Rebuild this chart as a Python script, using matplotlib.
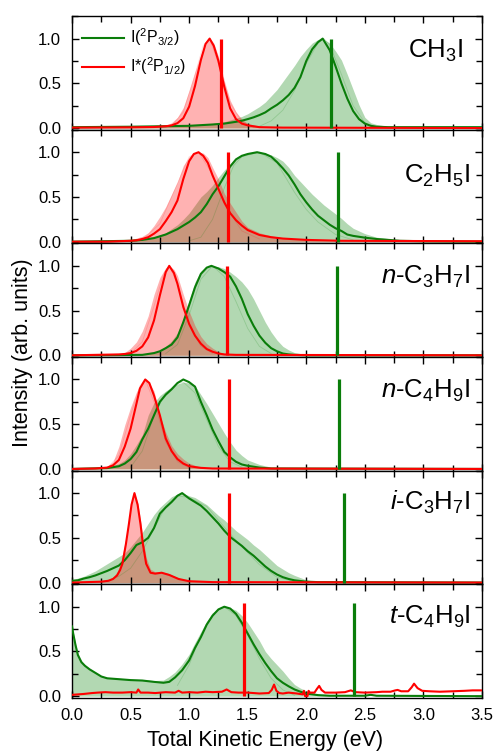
import matplotlib.pyplot as plt
from matplotlib.ticker import MultipleLocator

plt.rcParams['font.family'] = ['Liberation Sans', 'DejaVu Sans']
plt.rcParams['mathtext.fontset'] = 'custom'
plt.rcParams['mathtext.rm'] = 'Liberation Sans'
plt.rcParams['mathtext.it'] = 'Liberation Sans:italic'
plt.rcParams['mathtext.bf'] = 'Liberation Sans:bold'

# ---- CH3I ----
ch3i_g_e = [0.0, 0.5, 1.0, 1.2, 1.3, 1.4, 1.45, 1.5, 1.55, 1.6, 1.65, 1.7, 1.75, 1.8, 1.85, 1.9, 1.95, 2.0, 2.05,
            2.1, 2.14, 2.2, 2.25, 2.3, 2.35, 2.4, 2.45, 2.5, 2.55, 2.6, 2.7, 3.0, 3.5]
ch3i_g_line = [0.01, 0.015, 0.025, 0.04, 0.05, 0.07, 0.082, 0.1, 0.12, 0.145, 0.175, 0.22, 0.26, 0.31, 0.37, 0.45,
               0.57, 0.75, 0.88, 0.96, 1.0, 0.87, 0.69, 0.5, 0.33, 0.19, 0.1, 0.05, 0.025, 0.015, 0.01, 0.01, 0.01]
ch3i_g_fill = [0.01, 0.015, 0.03, 0.05, 0.07, 0.11, 0.13, 0.16, 0.2, 0.24, 0.29, 0.36, 0.43, 0.52, 0.61, 0.7,
               0.8, 0.88, 0.95, 0.99, 1.0, 0.95, 0.86, 0.76, 0.6, 0.43, 0.26, 0.12, 0.06, 0.04, 0.02, 0.01, 0.01]
ch3i_r_e = [0.0, 0.5, 0.7, 0.8, 0.85, 0.9, 0.95, 1.0, 1.05, 1.1, 1.14, 1.175, 1.21, 1.25, 1.3, 1.35, 1.4, 1.45,
            1.5, 1.6, 1.8, 3.5]
ch3i_r_line = [0.005, 0.008, 0.012, 0.02, 0.03, 0.055, 0.11, 0.24, 0.47, 0.76, 0.94, 1.0, 0.92, 0.75, 0.46, 0.22,
               0.1, 0.05, 0.03, 0.01, 0.005, 0.0]
ch3i_r_fill = [0.005, 0.01, 0.015, 0.03, 0.06, 0.12, 0.23, 0.42, 0.63, 0.82, 0.95, 1.0, 0.95, 0.8, 0.53, 0.31,
               0.18, 0.1, 0.05, 0.02, 0.005, 0.0]
ch3i_g_faint_e = [1.6, 1.7, 1.8, 1.9, 2.0, 2.1, 2.15, 2.2, 2.3, 2.4, 2.5, 2.6]
ch3i_g_faint = [0.02, 0.08, 0.2, 0.42, 0.72, 0.95, 1.0, 0.93, 0.6, 0.25, 0.06, 0.01]
ch3i_r_faint_e = [0.85, 0.95, 1.05, 1.12, 1.175, 1.25, 1.35, 1.45, 1.55]
ch3i_r_faint = [0.02, 0.18, 0.6, 0.92, 1.0, 0.72, 0.28, 0.07, 0.01]

# ---- C2H5I ----
c2h5i_g_e = [0.0, 0.5, 0.6, 0.7, 0.8, 0.9, 0.95, 1.0, 1.05, 1.1, 1.15, 1.2, 1.25, 1.3, 1.35, 1.4, 1.45, 1.5, 1.58,
             1.65, 1.7, 1.75, 1.8, 1.85, 1.9, 1.95, 2.0, 2.05, 2.1, 2.15, 2.2, 2.25, 2.3, 2.35, 2.4, 2.5, 2.6, 2.8,
             3.0, 3.5]
c2h5i_g_line = [0.0, 0.01, 0.02, 0.04, 0.08, 0.14, 0.18, 0.22, 0.27, 0.33, 0.42, 0.53, 0.62, 0.73, 0.84, 0.92,
                0.96, 0.98, 1.0, 0.98, 0.95, 0.89, 0.82, 0.74, 0.64, 0.53, 0.44, 0.36, 0.29, 0.24, 0.19, 0.15,
                0.12, 0.08, 0.065, 0.045, 0.03, 0.01, 0.005, 0.0]
c2h5i_g_fill = [0.0, 0.01, 0.025, 0.05, 0.1, 0.19, 0.25, 0.32, 0.41, 0.5, 0.56, 0.63, 0.72, 0.8, 0.87, 0.94,
                0.97, 0.99, 1.0, 0.99, 0.97, 0.94, 0.9, 0.83, 0.74, 0.67, 0.6, 0.53, 0.47, 0.41, 0.36, 0.31,
                0.26, 0.2, 0.15, 0.09, 0.05, 0.02, 0.005, 0.0]
c2h5i_r_e = [0.0, 0.3, 0.4, 0.5, 0.55, 0.6, 0.65, 0.7, 0.75, 0.8, 0.85, 0.9, 0.95, 1.0, 1.04, 1.08, 1.12, 1.16,
             1.2, 1.25, 1.3, 1.35, 1.4, 1.45, 1.5, 1.6, 1.7, 1.8, 2.0, 2.3, 3.5]
c2h5i_r_line = [0.0, 0.0, 0.005, 0.01, 0.015, 0.03, 0.05, 0.09, 0.14, 0.23, 0.33, 0.46, 0.7, 0.9, 0.98, 1.0,
                0.96, 0.88, 0.74, 0.59, 0.44, 0.32, 0.24, 0.18, 0.13, 0.075, 0.05, 0.035, 0.02, 0.01, 0.005]
c2h5i_r_fill = [0.0, 0.005, 0.01, 0.02, 0.04, 0.06, 0.1, 0.18, 0.28, 0.39, 0.53, 0.67, 0.85, 0.95, 0.99, 1.0,
                0.99, 0.94, 0.83, 0.7, 0.54, 0.43, 0.33, 0.23, 0.16, 0.1, 0.065, 0.045, 0.015, 0.005, 0.0]
c2h5i_g_faint_e = [1.0, 1.1, 1.2, 1.3, 1.38, 1.45, 1.6, 1.75, 1.9, 2.0, 2.1, 2.25, 2.4]
c2h5i_g_faint = [0.01, 0.05, 0.25, 0.6, 0.85, 0.95, 1.0, 0.88, 0.55, 0.36, 0.22, 0.08, 0.02]
c2h5i_r_faint_e = [0.6, 0.75, 0.9, 1.0, 1.08, 1.2, 1.3, 1.45, 1.6]
c2h5i_r_faint = [0.02, 0.2, 0.65, 0.95, 1.0, 0.75, 0.42, 0.12, 0.03]

# ---- n-C3H7I ----
nc3h7i_g_e = [0.0, 0.6, 0.7, 0.75, 0.8, 0.85, 0.9, 0.95, 1.0, 1.05, 1.1, 1.15, 1.19, 1.25, 1.3, 1.35, 1.4, 1.45,
              1.5, 1.55, 1.6, 1.65, 1.7, 1.75, 1.8, 1.85, 1.9, 2.0, 3.5]
nc3h7i_g_line = [0.0, 0.005, 0.025, 0.045, 0.08, 0.12, 0.2, 0.37, 0.56, 0.76, 0.91, 0.98, 1.0, 0.97, 0.93, 0.88,
                 0.77, 0.63, 0.46, 0.33, 0.22, 0.14, 0.08, 0.045, 0.02, 0.01, 0.005, 0.0, 0.0]
nc3h7i_g_fill = [0.0, 0.005, 0.03, 0.05, 0.1, 0.16, 0.25, 0.4, 0.62, 0.82, 0.94, 0.99, 1.0, 0.99, 0.97, 0.93,
                 0.88, 0.82, 0.74, 0.63, 0.5, 0.37, 0.26, 0.17, 0.1, 0.06, 0.03, 0.01, 0.0]
nc3h7i_r_e = [0.0, 0.4, 0.45, 0.5, 0.55, 0.6, 0.65, 0.7, 0.75, 0.8, 0.83, 0.87, 0.9, 0.95, 1.0, 1.05, 1.1, 1.15,
              1.2, 1.25, 1.3, 1.4, 3.5]
nc3h7i_r_line = [0.0, 0.01, 0.015, 0.025, 0.05, 0.1, 0.2, 0.39, 0.67, 0.93, 1.0, 0.92, 0.8, 0.54, 0.35, 0.22,
                 0.13, 0.07, 0.04, 0.02, 0.01, 0.005, 0.0]
nc3h7i_r_fill = [0.0, 0.015, 0.03, 0.08, 0.15, 0.27, 0.44, 0.68, 0.87, 0.98, 1.0, 0.96, 0.89, 0.68, 0.49, 0.33,
                 0.21, 0.13, 0.08, 0.04, 0.02, 0.005, 0.0]
nc3h7i_g_faint_e = [0.8, 0.9, 1.0, 1.1, 1.2, 1.3, 1.4, 1.5, 1.6, 1.7]
nc3h7i_g_faint = [0.02, 0.12, 0.45, 0.85, 1.0, 0.88, 0.6, 0.3, 0.1, 0.02]
nc3h7i_r_faint_e = [0.5, 0.6, 0.7, 0.78, 0.83, 0.9, 1.0, 1.1, 1.2]
nc3h7i_r_faint = [0.02, 0.15, 0.55, 0.9, 1.0, 0.8, 0.35, 0.1, 0.02]

# ---- n-C4H9I ----
nc4h9i_g_e = [0.0, 0.3, 0.4, 0.45, 0.5, 0.55, 0.6, 0.65, 0.7, 0.75, 0.8, 0.85, 0.9, 0.95, 1.0, 1.05, 1.1, 1.15,
              1.2, 1.25, 1.3, 1.35, 1.4, 1.45, 1.5, 1.6, 1.7, 3.5]
nc4h9i_g_line = [0.0, 0.01, 0.03, 0.06, 0.11, 0.19, 0.33, 0.45, 0.6, 0.75, 0.83, 0.89, 0.96, 1.0, 0.97, 0.92,
                 0.75, 0.6, 0.44, 0.31, 0.19, 0.13, 0.08, 0.05, 0.035, 0.015, 0.005, 0.0]
nc4h9i_g_fill = [0.0, 0.015, 0.06, 0.1, 0.17, 0.27, 0.38, 0.6, 0.74, 0.82, 0.87, 0.91, 0.95, 0.97, 0.96, 0.93,
                 0.83, 0.73, 0.62, 0.51, 0.4, 0.3, 0.21, 0.15, 0.1, 0.05, 0.02, 0.0]
nc4h9i_r_e = [0.0, 0.2, 0.3, 0.35, 0.4, 0.45, 0.5, 0.55, 0.58, 0.625, 0.66, 0.7, 0.75, 0.8, 0.85, 0.9, 0.95, 1.0,
              1.1, 1.2, 3.5]
nc4h9i_r_line = [0.0, 0.005, 0.015, 0.04, 0.1, 0.25, 0.45, 0.73, 0.9, 1.0, 0.96, 0.82, 0.6, 0.34, 0.2, 0.11,
                 0.06, 0.03, 0.012, 0.005, 0.0]
nc4h9i_r_fill = [0.0, 0.015, 0.03, 0.08, 0.25, 0.49, 0.69, 0.86, 0.93, 1.0, 0.96, 0.87, 0.6, 0.41, 0.26, 0.17,
                 0.11, 0.065, 0.015, 0.005, 0.0]
nc4h9i_g_faint_e = [0.5, 0.6, 0.7, 0.8, 0.9, 0.95, 1.05, 1.15, 1.25, 1.35, 1.45]
nc4h9i_g_faint = [0.02, 0.2, 0.6, 0.85, 0.96, 0.97, 0.85, 0.55, 0.25, 0.08, 0.02]
nc4h9i_r_faint_e = [0.3, 0.4, 0.5, 0.58, 0.625, 0.7, 0.8, 0.9, 1.0]
nc4h9i_r_faint = [0.01, 0.15, 0.6, 0.93, 1.0, 0.75, 0.3, 0.08, 0.01]

# ---- i-C3H7I ----
ic3h7i_g_e = [0.0, 0.05, 0.1, 0.15, 0.2, 0.25, 0.3, 0.35, 0.4, 0.45, 0.5, 0.55, 0.6, 0.65, 0.7, 0.75, 0.8, 0.85,
              0.9, 0.94, 1.0, 1.05, 1.1, 1.15, 1.2, 1.25, 1.3, 1.35, 1.4, 1.45, 1.5, 1.55, 1.6, 1.65, 1.7, 1.75,
              1.8, 1.85, 1.9, 2.0, 2.1, 3.5]
ic3h7i_g_line = [0.02, 0.025, 0.045, 0.06, 0.08, 0.105, 0.13, 0.16, 0.19, 0.25, 0.33, 0.42, 0.45, 0.5, 0.61,
                 0.77, 0.84, 0.9, 0.97, 1.0, 0.94, 0.9, 0.86, 0.8, 0.73, 0.66, 0.58, 0.51, 0.46, 0.41, 0.35, 0.3,
                 0.24, 0.18, 0.13, 0.09, 0.06, 0.04, 0.025, 0.01, 0.005, 0.0]
ic3h7i_g_fill = [0.03, 0.05, 0.07, 0.1, 0.13, 0.17, 0.21, 0.25, 0.29, 0.33, 0.4, 0.48, 0.56, 0.66, 0.76, 0.84,
                 0.9, 0.96, 0.99, 1.0, 0.97, 0.95, 0.91, 0.87, 0.81, 0.75, 0.7, 0.64, 0.58, 0.53, 0.48, 0.42,
                 0.37, 0.31, 0.25, 0.19, 0.15, 0.11, 0.08, 0.03, 0.01, 0.0]
ic3h7i_r_e = [0.0, 0.25, 0.31, 0.35, 0.385, 0.41, 0.43, 0.46, 0.485, 0.508, 0.533, 0.56, 0.585, 0.605, 0.633,
              0.67, 0.71, 0.765, 0.83, 0.91, 1.0, 1.2, 3.5]
ic3h7i_r_line = [0.0, 0.01, 0.02, 0.04, 0.08, 0.14, 0.21, 0.43, 0.65, 0.87, 1.0, 0.87, 0.65, 0.43, 0.21, 0.11,
                 0.1, 0.11, 0.085, 0.04, 0.015, 0.005, 0.0]
ic3h7i_r_fill = [0.0, 0.015, 0.03, 0.06, 0.12, 0.2, 0.3, 0.5, 0.72, 0.9, 1.0, 0.9, 0.7, 0.5, 0.28, 0.15, 0.12,
                 0.12, 0.1, 0.05, 0.02, 0.005, 0.0]
ic3h7i_g_faint_e = [0.3, 0.4, 0.5, 0.6, 0.7, 0.8, 0.9, 1.0, 1.15, 1.3, 1.45, 1.6, 1.75, 1.9]
ic3h7i_g_faint = [0.02, 0.07, 0.16, 0.35, 0.6, 0.85, 0.97, 0.95, 0.85, 0.62, 0.4, 0.2, 0.06, 0.01]

# ---- t-C4H9I ----
tc4h9i_g_e = [0.0, 0.01, 0.03, 0.05, 0.08, 0.11, 0.15, 0.2, 0.25, 0.3, 0.4, 0.5, 0.6, 0.7, 0.78, 0.83, 0.88,
              0.94, 1.0, 1.05, 1.1, 1.15, 1.2, 1.25, 1.3, 1.35, 1.4, 1.45, 1.5, 1.55, 1.6, 1.65, 1.7, 1.75, 1.8,
              1.85, 1.9, 1.95, 2.0, 2.1, 2.2, 2.5, 2.55, 2.6, 3.5]
tc4h9i_g_line = [0.78, 0.7, 0.57, 0.46, 0.38, 0.34, 0.3, 0.26, 0.22, 0.2, 0.19, 0.18, 0.175, 0.16, 0.15, 0.16,
                 0.21, 0.29, 0.4, 0.54, 0.66, 0.8, 0.9, 0.97, 1.0, 0.98, 0.92, 0.82, 0.7, 0.58, 0.47, 0.37, 0.28,
                 0.2, 0.15, 0.11, 0.075, 0.05, 0.03, 0.012, 0.005, 0.005, 0.015, 0.005, 0.0]
tc4h9i_g_fill = [0.8, 0.72, 0.59, 0.48, 0.4, 0.35, 0.31, 0.27, 0.23, 0.21, 0.2, 0.19, 0.185, 0.175, 0.18, 0.22,
                 0.27, 0.36, 0.47, 0.6, 0.72, 0.84, 0.93, 0.98, 1.0, 0.99, 0.96, 0.9, 0.82, 0.72, 0.62, 0.5, 0.42,
                 0.35, 0.28, 0.2, 0.13, 0.09, 0.06, 0.02, 0.005, 0.0, 0.0, 0.0, 0.0]
tc4h9i_r_e = [0.0, 0.05, 0.1, 0.17, 0.22, 0.285, 0.35, 0.43, 0.5, 0.55, 0.565, 0.585, 0.65, 0.71, 0.8, 0.88, 0.91,
              0.94, 1.0, 1.07, 1.14, 1.2, 1.28, 1.32, 1.36, 1.42, 1.5, 1.6, 1.68, 1.705, 1.725, 1.745, 1.77, 1.8,
              1.85, 1.92, 1.97, 1.98, 1.99, 2.01, 2.02, 2.03, 2.07, 2.09, 2.11, 2.13, 2.16, 2.25, 2.33, 2.38, 2.42,
              2.5, 2.6, 2.65, 2.72, 2.76, 2.78, 2.81, 2.87, 2.9, 2.92, 2.95, 2.99, 3.05, 3.14, 3.25, 3.35, 3.42, 3.5]
tc4h9i_r_line = [0.015, 0.02, 0.025, 0.035, 0.04, 0.045, 0.04, 0.04, 0.045, 0.04, 0.075, 0.04, 0.04, 0.035,
                 0.045, 0.04, 0.06, 0.04, 0.045, 0.04, 0.05, 0.045, 0.05, 0.075, 0.045, 0.04, 0.04, 0.03, 0.035,
                 0.07, 0.13, 0.06, 0.035, 0.03, 0.04, 0.03, 0.02, 0.06, 0.0, 0.0, 0.06, 0.04, 0.04, 0.08, 0.115,
                 0.07, 0.04, 0.04, 0.045, 0.065, 0.045, 0.04, 0.045, 0.05, 0.05, 0.065, 0.07, 0.055, 0.055, 0.1,
                 0.14, 0.09, 0.06, 0.055, 0.05, 0.055, 0.06, 0.065, 0.065]
tc4h9i_g_faint_e = [0.9, 1.0, 1.1, 1.2, 1.3, 1.4, 1.5, 1.6, 1.7, 1.8, 1.9]
tc4h9i_g_faint = [0.12, 0.35, 0.68, 0.92, 1.0, 0.9, 0.68, 0.42, 0.2, 0.07, 0.01]

# bar (threshold) energies and labels
molecules = [r'CH$_3$I', r'C$_2$H$_5$I', r'$n$-C$_3$H$_7$I', r'$n$-C$_4$H$_9$I',
             r'$i$-C$_3$H$_7$I', r'$t$-C$_4$H$_9$I']
red_bar_e = [1.275, 1.33, 1.32, 1.34, 1.34, 1.47]
green_bar_e = [2.215, 2.27, 2.26, 2.28, 2.32, 2.41]
bar_top = [1.0, 1.0, 1.0, 1.0, 1.0, 1.04]

panels = [
    (ch3i_g_e, ch3i_g_line, ch3i_g_fill, ch3i_r_e, ch3i_r_line, ch3i_r_fill,
     (ch3i_g_faint_e, ch3i_g_faint), (ch3i_r_faint_e, ch3i_r_faint)),
    (c2h5i_g_e, c2h5i_g_line, c2h5i_g_fill, c2h5i_r_e, c2h5i_r_line, c2h5i_r_fill,
     (c2h5i_g_faint_e, c2h5i_g_faint), (c2h5i_r_faint_e, c2h5i_r_faint)),
    (nc3h7i_g_e, nc3h7i_g_line, nc3h7i_g_fill, nc3h7i_r_e, nc3h7i_r_line, nc3h7i_r_fill,
     (nc3h7i_g_faint_e, nc3h7i_g_faint), (nc3h7i_r_faint_e, nc3h7i_r_faint)),
    (nc4h9i_g_e, nc4h9i_g_line, nc4h9i_g_fill, nc4h9i_r_e, nc4h9i_r_line, nc4h9i_r_fill,
     (nc4h9i_g_faint_e, nc4h9i_g_faint), (nc4h9i_r_faint_e, nc4h9i_r_faint)),
    (ic3h7i_g_e, ic3h7i_g_line, ic3h7i_g_fill, ic3h7i_r_e, ic3h7i_r_line, ic3h7i_r_fill,
     (ic3h7i_g_faint_e, ic3h7i_g_faint), None),
    (tc4h9i_g_e, tc4h9i_g_line, tc4h9i_g_fill, tc4h9i_r_e, tc4h9i_r_line, None,
     (tc4h9i_g_faint_e, tc4h9i_g_faint), None),
]

label_x = [3.34, 3.40, 3.40, 3.40, 3.40, 3.40]
label_y = [0.79, 0.66, 0.80, 0.80, 0.81, 0.81]

GREEN = '#0a7d0a'
RED = '#ff0000'

fig, axes = plt.subplots(6, 1, sharex=True, figsize=(4.95, 7.51), dpi=100,
                         gridspec_kw=dict(hspace=0))
fig.subplots_adjust(left=0.1455, right=0.9737, top=0.9784, bottom=0.0706)

for i, ax in enumerate(axes):
    g_e, g_line, g_fill, r_e, r_line, r_fill, g_faint, r_faint = panels[i]
    ax.fill_between(g_e, 0, g_fill, color='green', alpha=0.3, lw=0, zorder=1)
    if r_fill is not None:
        ax.fill_between(r_e, 0, r_fill, color='red', alpha=0.3, lw=0, zorder=1.1)
    ax.plot(g_faint[0], g_faint[1], color='green', alpha=0.18, lw=0.6, zorder=1.5)
    if r_faint is not None:
        ax.plot(r_faint[0], r_faint[1], color='red', alpha=0.15, lw=0.6, zorder=1.5)
    ax.plot(g_e, g_line, color=GREEN, lw=1.5, zorder=3, label=r'I($^2$P$_{3/2}$)')
    ax.plot(r_e, r_line, color=RED, lw=1.5, zorder=3, label=r'I*($^2$P$_{1/2}$)')
    ax.vlines(red_bar_e[i], 0, bar_top[i], color=RED, lw=2.3, zorder=4)
    ax.vlines(green_bar_e[i], 0, bar_top[i], color=GREEN, lw=2.3, zorder=4)

    ax.text(label_x[i], label_y[i], molecules[i], fontsize=18.5, ha='right', va='baseline')

    ax.set_xlim(0, 3.5)
    ax.set_ylim(-0.02, 1.25)
    ax.xaxis.set_major_locator(MultipleLocator(0.5))
    ax.xaxis.set_minor_locator(MultipleLocator(0.25))
    ax.yaxis.set_minor_locator(MultipleLocator(0.25))
    ax.set_yticks([0.0, 0.5, 1.0])
    ax.tick_params(which='both', direction='in', top=True, right=True, width=1.0,
                   labelsize=12)
    ax.tick_params(which='major', length=5)
    ax.tick_params(which='minor', length=4.5)
    ax.tick_params(axis='y', pad=8)
    ax.tick_params(axis='x', pad=7)
    for s in ax.spines.values():
        s.set_linewidth(1.0)

axes[0].legend(loc='upper left', bbox_to_anchor=(0.0, 1.0), frameon=False, fontsize=11.5,
               handlelength=2.6, handletextpad=0.35, labelspacing=0.45, borderaxespad=0.25)

fig.text(0.045, 0.530, 'Intensity (arb. units)', rotation=90, ha='center', va='center', fontsize=15.5)
fig.text(0.535, 0.0146, 'Total Kinetic Energy (eV)', ha='center', va='center', fontsize=15.5)

fig.savefig('out.png', dpi=100)
